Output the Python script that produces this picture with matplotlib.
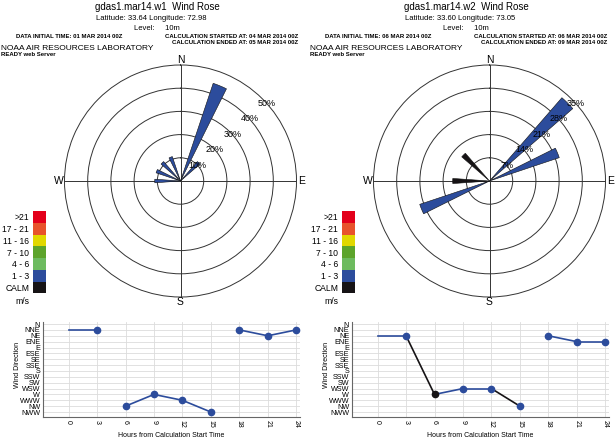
import numpy as np
import matplotlib.pyplot as plt

plt.rcParams['font.family'] = ['Liberation Sans', 'DejaVu Sans']

W, H = 615, 440

# 16 sectors, spelled as in the original chart
dir_names = ['N', 'NNE', 'NE', 'ENE', 'E', 'ESE', 'SE', 'SSE',
             'S', 'SSW', 'SW', 'WSW', 'W', 'WWW', 'NW', 'NWW']
dir_angles = np.arange(16) * 22.5

speed_labels = ['>21', '17 - 21', '11 - 16', '7 - 10', '4 - 6', '1 - 3', 'CALM']
speed_colors = ['#e3001b', '#e8532c', '#e1d800', '#5ca42b', '#6dbb5f', '#2c4c9c', '#161315']

hours = [0, 3, 6, 9, 12, 15, 18, 21, 24]

# --- panel 1 (w1) ---
w1_title = 'gdas1.mar14.w1  Wind Rose'
w1_latlon = 'Latitude: 33.64 Longitude: 72.98'
w1_times = ['DATA INITIAL TIME: 01 MAR 2014 00Z',
            'CALCULATION STARTED AT: 04 MAR 2014 00Z',
            'CALCULATION ENDED AT: 05 MAR 2014 00Z']
w1_rose_dir = ['NNE', 'NE', 'W', 'WWW', 'NW', 'NWW']
w1_rose_pct = [44.4, 11.1, 11.1, 11.1, 11.1, 11.1]
w1_rose_cls = ['1 - 3', '1 - 3', '1 - 3', '1 - 3', '1 - 3', '1 - 3']
w1_rings = [10, 20, 30, 40, 50]
w1_dir = ['NNE', 'NNE', 'NW', 'W', 'WWW', 'NWW', 'NNE', 'NE', 'NNE']
w1_pt_cls = [None, '1 - 3', '1 - 3', '1 - 3', '1 - 3', '1 - 3', '1 - 3', '1 - 3', '1 - 3']
w1_seg_cls = ['1 - 3', None, '1 - 3', '1 - 3', '1 - 3', None, '1 - 3', '1 - 3']

# --- panel 2 (w2) ---
w2_title = 'gdas1.mar14.w2  Wind Rose'
w2_latlon = 'Latitude: 33.60 Longitude: 73.05'
w2_times = ['DATA INITIAL TIME: 06 MAR 2014 00Z',
            'CALCULATION STARTED AT: 06 MAR 2014 00Z',
            'CALCULATION ENDED AT: 09 MAR 2014 00Z']
w2_rose_dir = ['NE', 'ENE', 'WSW', 'W', 'NW']
w2_rose_pct = [33.3, 22.2, 22.2, 11.1, 11.1]
w2_rose_cls = ['1 - 3', '1 - 3', '1 - 3', 'CALM', 'CALM']
w2_rings = [7, 14, 21, 28, 35]
w2_dir = ['NE', 'NE', 'W', 'WSW', 'WSW', 'NW', 'NE', 'ENE', 'ENE']
w2_pt_cls = [None, '1 - 3', 'CALM', '1 - 3', '1 - 3', '1 - 3', '1 - 3', '1 - 3', '1 - 3']
w2_seg_cls = ['1 - 3', 'CALM', '1 - 3', '1 - 3', 'CALM', None, '1 - 3', '1 - 3']


def cor(cls):
    return speed_colors[speed_labels.index(cls)]


def px(x, y):
    return x / W, 1 - y / H


def desenhar_painel(fig, off, title, latlon, times, rose_dir, rose_pct, rose_cls,
                    rings, ts_dir, pt_cls, seg_cls):
    # cabecalho
    fig.text(*px(157 + off, 7), title, ha='center', va='center', fontsize=7)
    fig.text(*px(151 + off, 18), latlon, ha='center', va='center', fontsize=5.5)
    fig.text(*px(157 + off, 28), 'Level:     10m', ha='center', va='center', fontsize=5.5)
    fig.text(*px(16 + off, 37), times[0], ha='left', va='center', fontsize=4.3, fontweight='bold')
    fig.text(*px(298 + off, 37), times[1], ha='right', va='center', fontsize=4.3, fontweight='bold')
    fig.text(*px(298 + off, 43), times[2], ha='right', va='center', fontsize=4.3, fontweight='bold')
    fig.text(*px(1 + off, 49), 'NOAA AIR RESOURCES LABORATORY', ha='left', va='center', fontsize=6)
    fig.text(*px(1 + off, 55), 'READY web Server', ha='left', va='center', fontsize=4.3,
             fontweight='bold')

    # rosa dos ventos
    cx, cy, r = 180.5 + off, 181, 116
    ax = fig.add_axes([(cx - r) / W, (H - cy - r) / H, 2 * r / W, 2 * r / H], polar=True)
    ax.set_theta_zero_location('N')
    ax.set_theta_direction(-1)
    rmax = rings[-1]
    ax.set_ylim(0, rmax)
    theta = np.deg2rad([dir_angles[dir_names.index(d)] for d in rose_dir])
    ax.bar(theta, rose_pct, width=np.deg2rad(8), bottom=0,
           color=[cor(c) for c in rose_cls], edgecolor='#111111', linewidth=0.4, zorder=3)
    ax.set_rgrids(rings[:-1], labels=[''] * (len(rings) - 1))
    ax.set_thetagrids([0, 90, 180, 270], labels=[''] * 4)
    ax.grid(True, color='#333333', linewidth=0.7)
    ax.spines['polar'].set_color('#333333')
    ax.spines['polar'].set_linewidth(0.7)
    for rv in rings:
        ax.text(np.deg2rad(48), rv, f'{rv}%', ha='center', va='center', fontsize=6.5, zorder=4)
    for ang, lab in zip([0, 90, 180, 270], ['N', 'E', 'S', 'W']):
        ax.text(np.deg2rad(ang), rmax * 1.045, lab, ha='center', va='center',
                fontsize=7.5, clip_on=False)

    # legenda de velocidade
    lg = fig.add_axes([(33.3 + off) / W, (H - 293.3) / H, 12.4 / W, 82.3 / H])
    n = len(speed_labels)
    lg.barh(np.arange(n), [1] * n, height=1, color=speed_colors, left=0)
    lg.set_ylim(n - 0.5, -0.5)
    lg.set_xlim(0, 1)
    lg.set_yticks(np.arange(n), speed_labels, fontsize=6.2)
    lg.set_xticks([])
    lg.tick_params(axis='y', length=0, pad=3)
    for s in lg.spines.values():
        s.set_visible(False)
    fig.text(*px(22 + off, 301), 'm/s', ha='center', va='center', fontsize=6.2)

    # serie temporal da direcao
    ts = fig.add_axes([(43 + off) / W, (H - 417.3) / H, 257 / W, 95.6 / H])
    yv = [dir_names.index(d) for d in ts_dir]
    for i in range(len(hours) - 1):
        if seg_cls[i] is not None:
            ts.plot(hours[i:i + 2], yv[i:i + 2], color=cor(seg_cls[i]), linewidth=1.2, zorder=3)
    for h, y, c in zip(hours, yv, pt_cls):
        if c is not None:
            ts.plot(h, y, 'o', color=cor(c), markersize=4.5, zorder=4)
    ts.set_xlim(-2.7, 24.4)
    ts.set_ylim(15.9, -0.4)
    ts.set_yticks(range(16), dir_names, fontsize=5.2)
    ts.set_xticks(hours, [str(h) for h in hours], fontsize=5, rotation=-90)
    ts.tick_params(length=0, pad=2)
    ts.grid(True, color='#dcdcdc', linewidth=0.6)
    ts.set_axisbelow(True)
    for s in ['top', 'right']:
        ts.spines[s].set_visible(False)
    for s in ['left', 'bottom']:
        ts.spines[s].set_color('#666666')
        ts.spines[s].set_linewidth(0.8)
    ts.set_ylabel('Wind Direction', fontsize=5)
    ts.yaxis.set_label_coords(-0.087, 0.55)
    ts.set_xlabel('Hours from Calculation Start Time', fontsize=5, labelpad=3)


fig = plt.figure(figsize=(6.15, 4.4), dpi=100)
desenhar_painel(fig, 0, w1_title, w1_latlon, w1_times, w1_rose_dir, w1_rose_pct, w1_rose_cls,
                w1_rings, w1_dir, w1_pt_cls, w1_seg_cls)
desenhar_painel(fig, 309, w2_title, w2_latlon, w2_times, w2_rose_dir, w2_rose_pct, w2_rose_cls,
                w2_rings, w2_dir, w2_pt_cls, w2_seg_cls)
fig.savefig('out.png', dpi=100)
